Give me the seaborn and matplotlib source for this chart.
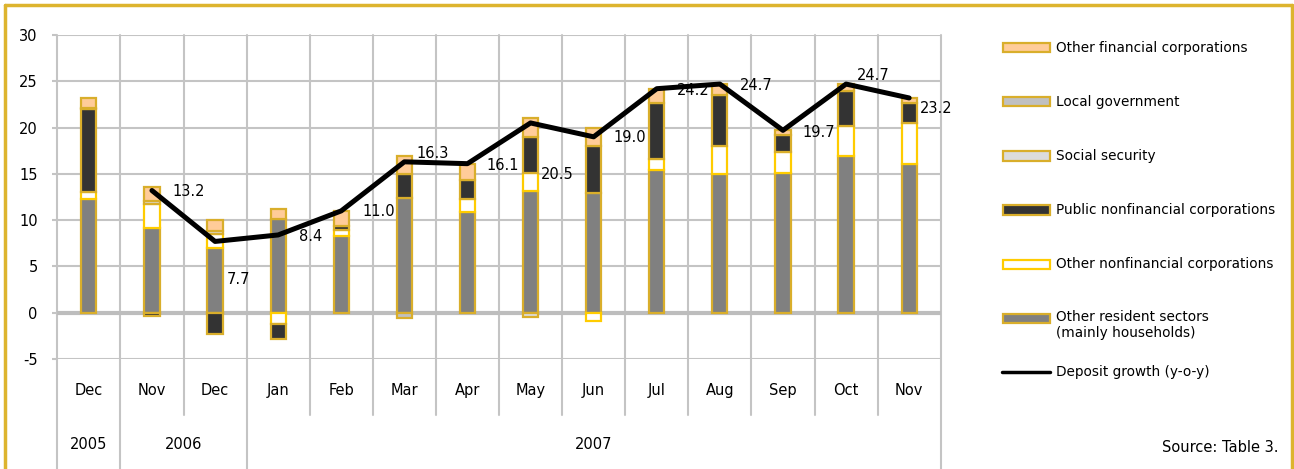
import numpy as np
import matplotlib
matplotlib.use("Agg")
import matplotlib.pyplot as plt
import seaborn as sns
from matplotlib.lines import Line2D
from matplotlib.patches import Rectangle

months = ['Dec', 'Nov', 'Dec', 'Jan', 'Feb', 'Mar', 'Apr', 'May', 'Jun',
          'Jul', 'Aug', 'Sep', 'Oct', 'Nov']
years = ['2005', '2006', '2007']
year_first = [0, 1, 3]
year_last = [0, 2, 13]

# contributions, stacked from the bottom up
other_resident = [12.3, 9.2, 7.0, 10.1, 8.3, 12.4, 10.9, 13.1, 12.9, 15.4, 15.0, 15.1, 16.9, 16.1]
other_nonfin = [0.7, 2.5, 1.5, -1.2, 0.6, 0.0, 1.4, 2.0, -0.9, 1.2, 3.0, 2.3, 3.3, 4.4]
public_nonfin = [9.0, -0.4, -2.3, -1.6, 0.5, 2.6, 2.0, 3.9, 5.1, 6.1, 5.5, 1.8, 3.8, 2.2]
social_security = [0.0, 0.4, 0.3, 0.0, 0.0, 0.0, 0.0, -0.5, 0.0, 0.0, 0.0, 0.0, 0.0, 0.0]
local_gov = [0.1, 0.0, 0.0, 0.0, 0.0, -0.6, 0.0, 0.0, 0.0, 0.0, 0.0, 0.0, 0.0, 0.0]
other_fin = [1.1, 1.5, 1.2, 1.1, 1.6, 1.9, 1.8, 2.0, 1.9, 1.5, 1.2, 0.5, 0.7, 0.5]
growth = [np.nan, 13.2, 7.7, 8.4, 11.0, 16.3, 16.1, 20.5, 19.0, 24.2, 24.7, 19.7, 24.7, 23.2]

series_names = ['Other resident sectors\n(mainly households)', 'Other nonfinancial corporations',
                'Public nonfinancial corporations', 'Social security', 'Local government',
                'Other financial corporations']
line_name = 'Deposit growth (y-o-y)'

gold = '#D9AE2B'
fills = ['#808080', '#FFFFFF', '#333333', '#DCDCDC', '#C0C0C0', '#FFCC99']
edges = [gold, '#FFCC00', gold, gold, gold, gold]

# where Excel put the data labels (pixels right / down of the point)
label_dx = [0, 37, 23, 32, 37, 28, 35, 27, 36, 36, 36, 36, 27, 27]
label_dy = [0, 1, 38, 2, 1, -8, 2, 52, 1, 2, 1, 2, -9, 11]

sns.set_theme(style="white")
plt.rcParams['font.family'] = ['DejaVu Sans']
plt.rcParams['font.size'] = 10
plt.rcParams['axes.unicode_minus'] = False
plt.rcParams['text.color'] = 'black'

W, H = 1294, 469
fig = plt.figure(figsize=(W / 100, H / 100), dpi=100)
ax = fig.add_axes([57.3 / W, 1 - 359 / H, (940.7 - 57.3) / W, (359 - 35) / H])

x = np.arange(len(months))
layers = [other_resident, other_nonfin, public_nonfin, social_security, local_gov, other_fin]
pos_base = np.zeros(len(x))
neg_base = np.zeros(len(x))
for vals, fc, ec in zip(layers, fills, edges):
    v = np.array(vals)
    keep = v != 0
    bottom = np.where(v >= 0, pos_base, neg_base)
    ax.bar(x[keep], v[keep], width=0.24, bottom=bottom[keep], color=fc,
           edgecolor=ec, linewidth=1.6, zorder=3)
    pos_base += np.where(v > 0, v, 0)
    neg_base += np.where(v < 0, v, 0)

sns.lineplot(x=x, y=growth, color='black', linewidth=3.6, ax=ax, zorder=6)

for i, g in enumerate(growth):
    if np.isnan(g):
        continue
    ax.annotate(f'{g:.1f}', (i, g), xytext=(label_dx[i] * 0.72, -label_dy[i] * 0.72),
                textcoords='offset points', ha='center', va='center', fontsize=10.5,
                color='black', zorder=5)

ax.set_xlim(-0.5, len(months) - 0.5)
ax.set_ylim(-5, 30)
ax.set_yticks(range(-5, 31, 5))
ax.set_xticks([])
ax.grid(axis='y', color='#C4C4C4', linewidth=1.5, zorder=0)
ax.axhline(0, color='#BDBDBD', linewidth=3, zorder=2)
for s in ax.spines.values():
    s.set_visible(False)
ax.tick_params(axis='y', left=True, length=3.6, width=1.5, color='#C4C4C4', pad=10.5,
               labelsize=10.5, labelcolor='black')

# category separators, running down through the label rows
trans = ax.get_xaxis_transform()
year_edges = [-0.5] + [l + 0.5 for l in year_last]
for b in np.arange(-0.5, len(months), 1.0):
    low = -0.45 if b in year_edges else -0.173
    ax.plot([b, b], [1, low], transform=trans, color='#C4C4C4', linewidth=1.5,
            clip_on=False, zorder=1)

for i, m in enumerate(months):
    ax.text(i, -0.096, m, transform=trans, ha='center', va='center', fontsize=10.5)
for y, a, b in zip(years, year_first, year_last):
    ax.text((a + b) / 2, -0.265, y, transform=trans, ha='center', va='center', fontsize=10.5)

# legend drawn by hand to keep Excel's even row spacing
rows = [318, 264, 210, 156, 102, 48]
for yy, name, fc, ec in zip(rows, series_names, fills, edges):
    fig.add_artist(Rectangle((1003 / W, 1 - (yy + 4.5) / H), 47 / W, 9 / H,
                             transform=fig.transFigure, facecolor=fc, edgecolor=ec, linewidth=1.6))
    if '\n' in name:
        fig.text(1056 / W, 1 - (yy - 8) / H, name, ha='left', va='top', fontsize=9.8,
                 linespacing=1.15)
    else:
        fig.text(1056 / W, 1 - yy / H, name, ha='left', va='center', fontsize=9.8)
fig.add_artist(Line2D([1002 / W, 1050 / W], [1 - 372 / H] * 2, transform=fig.transFigure,
                      color='black', linewidth=2.5))
fig.text(1056 / W, 1 - 372 / H, line_name, ha='left', va='center', fontsize=9.8)

fig.text(1278 / W, 1 - 447 / H, 'Source: Table 3.', ha='right', va='center', fontsize=10.5)

# gold frame around the chart (bottom edge is cut off)
frame = '#DDB42E'
fig.add_artist(Line2D([5 / W, 1292 / W], [1 - 5 / H] * 2, transform=fig.transFigure,
                      color=frame, linewidth=2.5))
fig.add_artist(Line2D([5 / W, 5 / W], [0, 1 - 5 / H], transform=fig.transFigure,
                      color=frame, linewidth=2.5))
fig.add_artist(Line2D([1292 / W, 1292 / W], [0, 1 - 5 / H], transform=fig.transFigure,
                      color=frame, linewidth=2.5))

fig.savefig('out.png', dpi=100)
